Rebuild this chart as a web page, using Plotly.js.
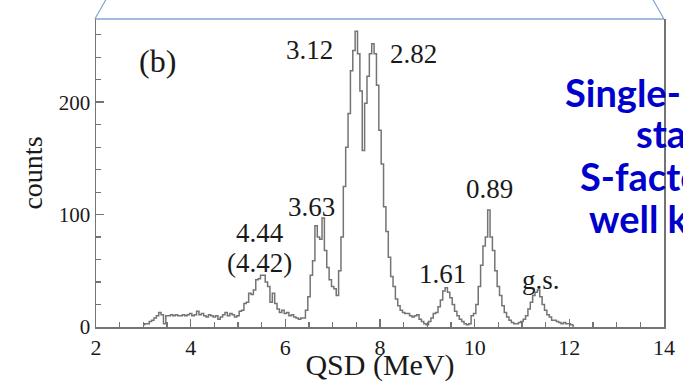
<!DOCTYPE html>
<html>
<head>
<meta charset="utf-8">
<script src="https://cdn.plot.ly/plotly-3.0.1.min.js"></script>
<style>
  html, body { margin: 0; padding: 0; background: #fff; }
  #chart { width: 683px; height: 382px; }
</style>
</head>
<body>
<div id="chart"></div>
<script>
// Histogram of counts vs QSD (MeV); bins of 0.05 MeV starting at 3.00 MeV
const binStart = 3.0;
const binWidth = 0.05;
const counts = [
  2,3,3,5,6,8,10,13,11,3,          // 3.00-3.45
  10,10,11,10,11,10,10,11,10,11,   // 3.50-3.95
  12,10,11,14,11,12,10,9,11,10,    // 4.00-4.45
  9,10,7,9,11,13,10,12,11,9,       // 4.50-4.95
  10,14,15,21,22,30,29,33,42,43,   // 5.00-5.45
  46,46,40,36,22,30,21,16,13,15,   // 5.50-5.95
  12,13,10,11,9,8,7,8,8,15,        // 6.00-6.45
  27,46,59,90,80,78,97,68,53,42,   // 6.50-6.95
  36,34,28,50,80,125,160,190,228,246, // 7.00-7.45
  263,243,210,157,199,223,243,252,243,215, // 7.50-7.95
  175,145,107,85,62,45,36,25,19,15,  // 8.00-8.45
  13,12,12,10,9,10,11,7,5,3,       // 8.50-8.95
  2,5,8,12,13,18,24,32,35,31,      // 9.00-9.45
  26,20,14,10,7,5,3,2,3,10,        // 9.50-9.95
  12,20,36,55,72,80,104,80,68,50,  // 10.00-10.45
  36,28,19,13,9,6,4,3,3,4,         // 10.50-10.95
  5,7,10,16,22,28,31,33,27,20,     // 11.00-11.45
  15,11,9,6,6,5,4,3,4,3,           // 11.50-11.95
  3,2,1                            // 12.00-12.10
];

// Peak labels
const peakLabels = ["3.12", "2.82", "3.63", "4.44", "(4.42)", "0.89", "1.61", "g.s."];
const peakLabelX = [6.52, 8.70, 6.56, 5.46, 5.46, 10.32, 9.33, 11.40];
const peakLabelY = [246, 243, 107, 84, 57, 123, 47, 42];

const panelLabel = "(b)";
const xTickVals = [2, 4, 6, 8, 10, 12, 14];
const yTickVals = [0, 100, 200];

// Slide text overlapping on the right (cut off by the picture edge, as in the reference)
const sideText = ["Single-", "sta", "S-facto", "well k"];
const sideTextX = [0.822, 0.947, 0.849, 0.864];
const sideTextY = [0.763, 0.630, 0.490, 0.354];

const serif = "Liberation Serif, Times New Roman, serif";
const lineGray = "#747474";

const annotations = [];
peakLabels.forEach((t, i) => {
  annotations.push({
    text: t, x: peakLabelX[i], y: peakLabelY[i], xref: "x", yref: "y",
    showarrow: false, xanchor: "center", yanchor: "middle",
    font: { family: serif, size: 27, color: "#1a1a1a" }
  });
});
annotations.push({
  text: panelLabel, x: 3.29, y: 237, xref: "x", yref: "y",
  showarrow: false, xanchor: "center", yanchor: "middle",
  font: { family: serif, size: 32, color: "#1a1a1a" }
});
sideText.forEach((t, i) => {
  annotations.push({
    text: "<b>" + t + "</b>", x: sideTextX[i], y: sideTextY[i], xref: "paper", yref: "paper",
    showarrow: false, xanchor: "left", yanchor: "middle",
    font: { family: "Lato, Open Sans, sans-serif", size: 38, color: "#0000cc" }
  });
});

const trace = {
  type: "scatter",
  mode: "lines",
  x0: binStart,
  dx: binWidth,
  y: counts,
  line: { shape: "hvh", color: lineGray, width: 1.5 },
  hoverinfo: "x+y"
};

const layout = {
  width: 683, height: 382,
  margin: { l: 96, r: 19, t: 19, b: 55 },
  paper_bgcolor: "#ffffff",
  plot_bgcolor: "#ffffff",
  showlegend: false,
  xaxis: {
    range: [2, 14],
    tickvals: xTickVals,
    ticks: "inside", ticklen: 8, tickwidth: 1.5, tickcolor: lineGray,
    minor: { dtick: 0.5, ticks: "inside", ticklen: 5, tickwidth: 1.2, tickcolor: lineGray },
    showgrid: false, zeroline: false,
    showline: true, linecolor: lineGray, linewidth: 1.5, mirror: false,
    tickfont: { family: serif, size: 22, color: "#1a1a1a" },
    title: { text: "QSD (MeV)", font: { family: serif, size: 30, color: "#1a1a1a" }, standoff: 9 }
  },
  yaxis: {
    range: [0, 274],
    tickvals: yTickVals,
    ticks: "inside", ticklen: 8, tickwidth: 1.5, tickcolor: lineGray,
    minor: { dtick: 20, ticks: "inside", ticklen: 5, tickwidth: 1.2, tickcolor: lineGray },
    showgrid: false, zeroline: false,
    showline: true, linecolor: lineGray, linewidth: 1.5, mirror: true,
    tickfont: { family: serif, size: 21, color: "#1a1a1a" },
    title: { text: "counts", font: { family: serif, size: 28, color: "#1a1a1a" }, standoff: 8 }
  },
  annotations: annotations,
  shapes: [
    { type: "line", xref: "paper", yref: "paper", x0: 0, y0: 1, x1: 1, y1: 1,
      line: { color: "#7fa6cf", width: 1.3 } },
    { type: "line", xref: "paper", yref: "paper", x0: -0.002, y0: 1.0, x1: 0.019, y1: 1.068,
      line: { color: "#7fa6cf", width: 1.2 } },
    { type: "line", xref: "paper", yref: "paper", x0: 1.0, y0: 1.0, x1: 0.979, y1: 1.068,
      line: { color: "#7fa6cf", width: 1.2 } }
  ]
};

Plotly.newPlot("chart", [trace], layout, { displayModeBar: false, staticPlot: true });
</script>
</body>
</html>
